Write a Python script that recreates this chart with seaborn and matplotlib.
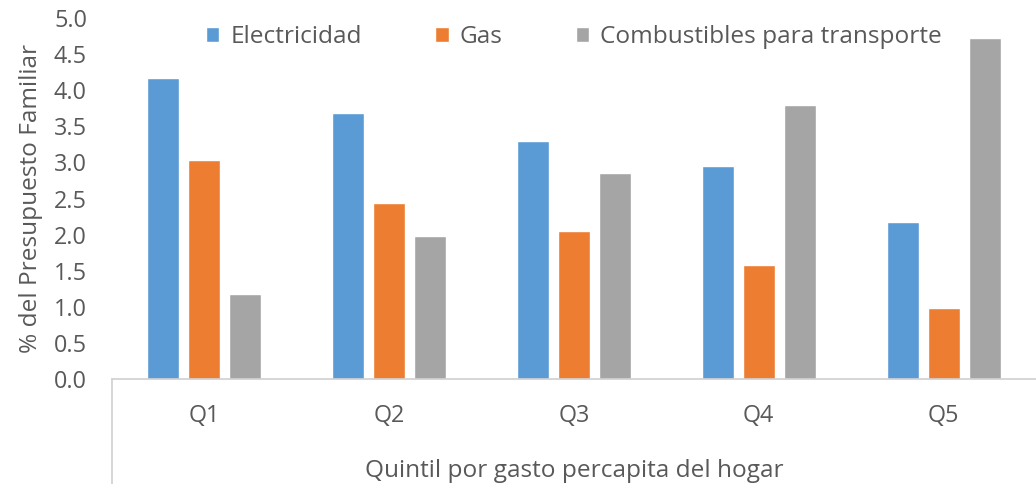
import matplotlib
matplotlib.use("Agg")
import matplotlib.pyplot as plt
from matplotlib.lines import Line2D
import seaborn as sns
import pandas as pd

quintiles = ["Q1", "Q2", "Q3", "Q4", "Q5"]
electricidad = [4.17, 3.69, 3.30, 2.95, 2.17]
gas = [3.03, 2.44, 2.05, 1.58, 0.98]
combustibles = [1.18, 1.98, 2.85, 3.79, 4.72]
series_names = ["Electricidad", "Gas", "Combustibles para transporte"]
colors = ["#5B9BD5", "#ED7D31", "#A5A5A5"]

df = pd.DataFrame({
    "quintil": quintiles * 3,
    "serie": [series_names[0]] * 5 + [series_names[1]] * 5 + [series_names[2]] * 5,
    "valor": electricidad + gas + combustibles,
})

sns.set_theme(style="white")
plt.rcParams["font.family"] = ["Open Sans", "DejaVu Sans"]
text_color = "#595959"
tick_fs = 16.8
label_fs = 17.6

fig = plt.figure(figsize=(10.36, 4.84), dpi=100)
ax = fig.add_axes([112 / 1036, 1 - 379 / 484, 1 - 112 / 1036, (379 - 18) / 484])

sns.barplot(data=df, x="quintil", y="valor", hue="serie", order=quintiles,
            hue_order=series_names, palette=colors, width=0.665, gap=0.22,
            saturation=1, ax=ax, legend=True)

ax.set_ylim(0, 5.0)
ax.set_xlim(-0.5, 4.5)
ax.set_yticks([i * 0.5 for i in range(11)])
ax.set_yticklabels([f"{i * 0.5:.1f}" for i in range(11)])
ax.tick_params(axis="y", length=0, pad=18, labelsize=tick_fs, labelcolor=text_color)
ax.tick_params(axis="x", length=0, pad=18, labelsize=tick_fs, labelcolor=text_color)

for side in ["top", "right", "left"]:
    ax.spines[side].set_visible(False)
ax.spines["bottom"].set_color("#D0D0D0")
ax.spines["bottom"].set_linewidth(1.2)

ax.set_ylabel("% del Presupuesto Familiar", fontsize=label_fs, color=text_color, labelpad=8)
ax.set_xlabel("Quintil por gasto percapita del hogar", fontsize=label_fs,
              color=text_color, labelpad=22)

# category axis frame continuing below the plot
fig.add_artist(Line2D([112 / 1036, 112 / 1036], [0, 1 - 379 / 484],
                      transform=fig.transFigure, color="#D0D0D0", linewidth=1.2))

handles, labels = ax.get_legend_handles_labels()
ax.legend(handles, labels, loc="center", bbox_to_anchor=(0.5, (379 - 37) / 361),
          ncol=3, frameon=False, fontsize=label_fs, labelcolor=text_color,
          handlelength=0.55, handleheight=0.55, handletextpad=0.45,
          columnspacing=3.0)

fig.savefig("out.png", dpi=100)
